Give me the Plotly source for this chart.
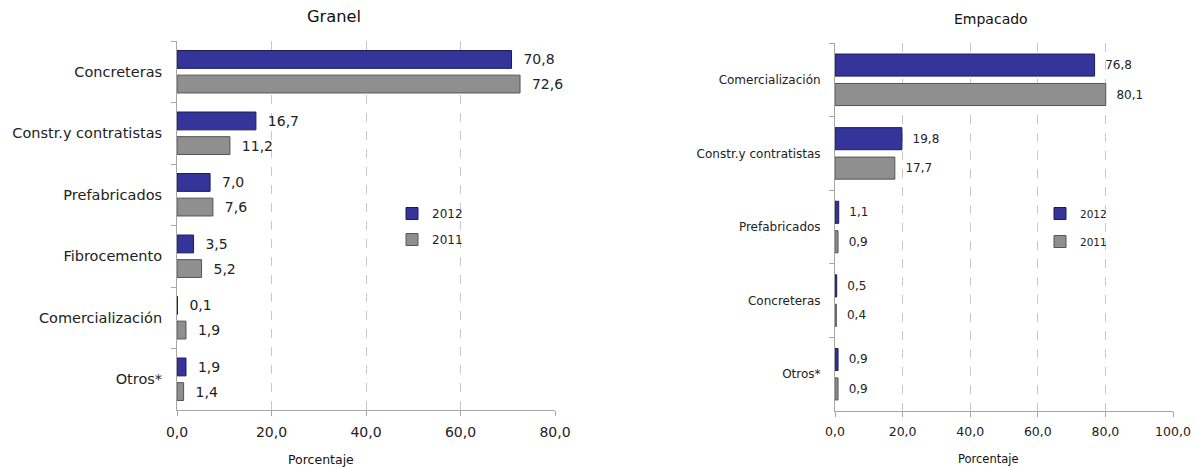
import plotly.graph_objects as go

# Granel
cats_granel = ["Concreteras", "Constr.y contratistas", "Prefabricados", "Fibrocemento", "Comercialización", "Otros*"]
granel_2012 = [70.8, 16.7, 7.0, 3.5, 0.1, 1.9]
granel_2011 = [72.6, 11.2, 7.6, 5.2, 1.9, 1.4]

# Empacado
cats_emp = ["Comercialización", "Constr.y contratistas", "Prefabricados", "Concreteras", "Otros*"]
emp_2012 = [76.8, 19.8, 1.1, 0.5, 0.9]
emp_2011 = [80.1, 17.7, 0.9, 0.4, 0.9]

C2012 = "#34349a"
C2011 = "#8f8f8f"
FONT = "DejaVu Sans"

W, H = 1195, 468


def px(x):
    return x / W


def py(y):
    return 1 - y / H


fig = go.Figure()

NB = "\u00a0\u00a0"


def add(cats, v12, v11, xa, ya, leg, bw, fs):
    fig.add_trace(go.Bar(y=cats, x=v12, orientation="h", name="2012", xaxis=xa, yaxis=ya,
                         width=bw, legendgroup="a",
                         marker=dict(color=C2012, line=dict(color="#1c1c5c", width=1)),
                         texttemplate=NB + "%{x:.1f}", textposition="outside",
                         textfont=dict(size=fs, color="#222"), cliponaxis=False, legend=leg))
    fig.add_trace(go.Bar(y=cats, x=v11, orientation="h", name="2011", xaxis=xa, yaxis=ya,
                         width=bw, legendgroup="b",
                         marker=dict(color=C2011, line=dict(color="#555", width=1)),
                         texttemplate=NB + "%{x:.1f}", textposition="outside",
                         textfont=dict(size=fs, color="#222"), cliponaxis=False, legend=leg))


add(cats_granel, granel_2012, granel_2011, "x", "y", "legend", 0.29, 14)
add(cats_emp, emp_2012, emp_2011, "x2", "y2", "legend2", 0.30, 12)

axcommon = dict(showgrid=True, gridcolor="#c8c8c8", griddash="dash", zeroline=False,
                showline=True, linecolor="#a6a6a6", ticks="outside", tickcolor="#a6a6a6",
                ticklen=5, tickformat=".1f", automargin=False, ticklabeloverflow="allow",
                ticklabelstandoff=4)
ycommon = dict(autorange="reversed", showline=True, linecolor="#a6a6a6", ticks="outside",
               tickcolor="#a6a6a6", ticklen=5, tickson="boundaries", showgrid=False,
               automargin=False, ticklabelstandoff=11)

fig.update_layout(
    width=W, height=H,
    margin=dict(l=0, r=0, t=0, b=0),
    paper_bgcolor="white", plot_bgcolor="white",
    separators=", ",
    barmode="group",
    font=dict(family=FONT, color="#222"),
    xaxis=dict(domain=[px(177), px(555)], range=[0, 80], dtick=20, anchor="y",
               tickfont=dict(size=14, color="#222", family=FONT), **axcommon),
    yaxis=dict(domain=[py(410), py(41)], anchor="x",
               tickfont=dict(size=14.5, color="#222", family=FONT), **ycommon),
    xaxis2=dict(domain=[px(835), px(1173)], range=[0, 100], dtick=20, anchor="y2",
                tickfont=dict(size=12.5, color="#222", family=FONT), **axcommon),
    yaxis2=dict(domain=[py(411), py(43)], anchor="x2",
                tickfont=dict(size=12, color="#222", family=FONT), **ycommon),
    legend=dict(x=px(392), y=py(199), xanchor="left", yanchor="top",
                font=dict(size=12), bgcolor="rgba(0,0,0,0)", tracegroupgap=7,
                itemwidth=30, traceorder="grouped"),
    legend2=dict(x=px(1040), y=py(199), xanchor="left", yanchor="top",
                 font=dict(size=10.5), bgcolor="rgba(0,0,0,0)", tracegroupgap=9,
                 itemwidth=30, traceorder="grouped"),
    annotations=[
        dict(text="Granel", x=px(334), y=py(17), xref="paper", yref="paper",
             xanchor="center", yanchor="middle", showarrow=False,
             font=dict(size=16.3, color="#111")),
        dict(text="Empacado", x=px(991), y=py(19), xref="paper", yref="paper",
             xanchor="center", yanchor="middle", showarrow=False,
             font=dict(size=14, color="#111")),
        dict(text="Porcentaje", x=px(321), y=py(459), xref="paper", yref="paper",
             xanchor="center", yanchor="middle", showarrow=False,
             font=dict(size=12.5, color="#111")),
        dict(text="Porcentaje", x=px(988), y=py(459), xref="paper", yref="paper",
             xanchor="center", yanchor="middle", showarrow=False,
             font=dict(size=11.5, color="#111")),
    ],
)

fig.write_html("out.html", config={"displayModeBar": False},
               post_script="document.body.style.margin='0px';document.body.style.overflow='hidden';")
